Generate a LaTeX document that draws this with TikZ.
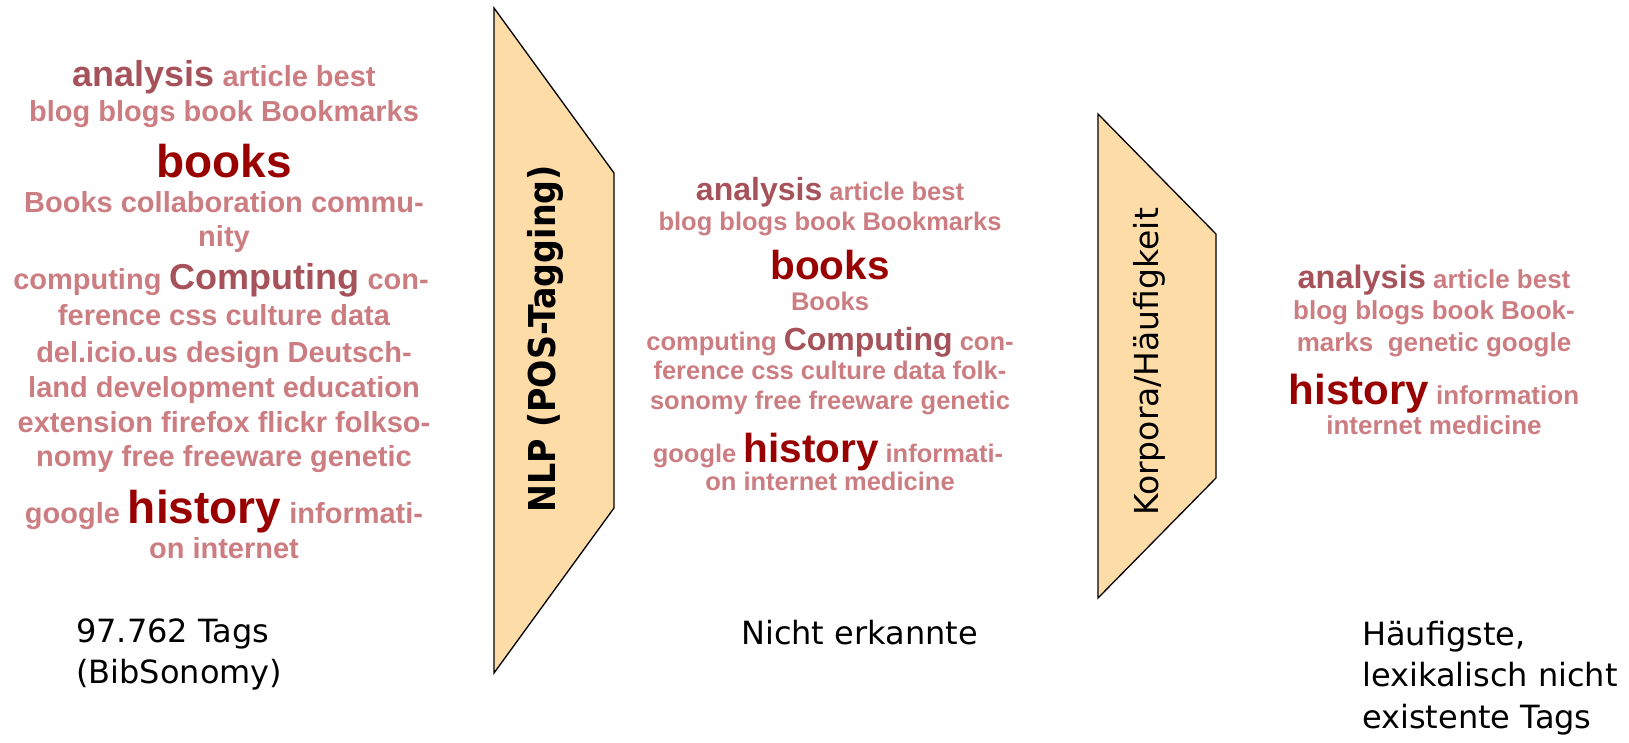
\documentclass[tikz,border=0pt]{standalone}
\usepackage{fontspec}
\setmainfont{DejaVu Sans}
\newfontfamily\cloudfont{Liberation Sans}
\newfontfamily\nlpfont{DejaVu Sans Condensed Bold}
\definecolor{tdark}{RGB}{153,0,0}
\definecolor{tmid}{RGB}{166,82,90}
\definecolor{tlight}{RGB}{204,125,130}
\definecolor{peach}{RGB}{253,220,168}
\newcommand\tg[3]{{\color{#2}\fontsize{#1}{#1}\selectfont#3}}
\tikzset{
  tagline/.style={anchor=base, inner sep=0pt, font=\cloudfont\bfseries},
  caption/.style={anchor=base west, inner sep=0pt, font=\fontsize{32}{32}\selectfont},
  funnel/.style={draw=black, line width=1.3pt, fill=peach, line join=miter},
}
\begin{document}
\begin{tikzpicture}[x=1pt,y=-1pt]
\useasboundingbox (0,0) rectangle (1629,742);
% funnels
\draw[funnel] (494,8) -- (614,173) -- (614,508) -- (494,673) -- cycle;
\draw[funnel] (1098,114) -- (1216,234) -- (1216,478) -- (1098,598) -- cycle;
\node[anchor=base, inner sep=0pt, rotate=90, font=\nlpfont\fontsize{37}{37}\selectfont] (nlp) at (555,339) {NLP (POS-Tagging)};
\node[anchor=base, inner sep=0pt, rotate=90, font=\fontsize{33}{33}\selectfont] (korp) at (1158,362) {Korpora/Häufigkeit};
% left cloud
\def\s{29}\def\m{36}\def\l{46}
\node[tagline] (L1) at (224,86) {\tg{\m}{tmid}{analysis}\tg{\s}{tlight}{ article best}};
\node[tagline] (L2) at (224,121) {\tg{\s}{tlight}{blog blogs book Bookmarks}};
\node[tagline] (L3) at (224,177) {\tg{\l}{tdark}{books}};
\node[tagline] (L4) at (224,212) {\tg{\s}{tlight}{Books collaboration commu-}};
\node[tagline] (L5) at (224,246) {\tg{\s}{tlight}{nity}};
\node[tagline] (L6) at (221,289) {\tg{\s}{tlight}{computing }\tg{\m}{tmid}{Computing}\tg{\s}{tlight}{ con-}};
\node[tagline] (L7) at (224,325) {\tg{\s}{tlight}{ference css culture data}};
\node[tagline] (L8) at (224,362) {\tg{\s}{tlight}{del.icio.us design Deutsch-}};
\node[tagline] (L9) at (224,397) {\tg{\s}{tlight}{land development education}};
\node[tagline] (L10) at (224,432) {\tg{\s}{tlight}{extension firefox flickr folkso-}};
\node[tagline] (L11) at (224,466) {\tg{\s}{tlight}{nomy free freeware genetic}};
\node[tagline] (L12) at (224,523) {\tg{\s}{tlight}{google }\tg{\l}{tdark}{history}\tg{\s}{tlight}{ informati-}};
\node[tagline] (L13) at (224,558) {\tg{\s}{tlight}{on internet}};
% middle cloud
\def\s{25.5}\def\m{32}\def\l{40.5}
\node[tagline] (M1) at (830,200) {\tg{\m}{tmid}{analysis}\tg{\s}{tlight}{ article best}};
\node[tagline] (M2) at (830,230) {\tg{\s}{tlight}{blog blogs book Bookmarks}};
\node[tagline] (M3) at (830,279) {\tg{\l}{tdark}{books}};
\node[tagline] (M4) at (830,310) {\tg{\s}{tlight}{Books}};
\node[tagline] (M5) at (830,350) {\tg{\s}{tlight}{computing }\tg{\m}{tmid}{Computing}\tg{\s}{tlight}{ con-}};
\node[tagline] (M6) at (830,379) {\tg{\s}{tlight}{ference css culture data folk-}};
\node[tagline] (M7) at (830,409) {\tg{\s}{tlight}{sonomy free freeware genetic}};
\node[tagline] (M8) at (828,462) {\tg{\s}{tlight}{google }\tg{\l}{tdark}{history}\tg{\s}{tlight}{ informati-}};
\node[tagline] (M9) at (830,490) {\tg{\s}{tlight}{on internet medicine}};
% right cloud
\def\s{26}\def\m{32.5}\def\l{42}
\node[tagline] (R1) at (1434,288) {\tg{\m}{tmid}{analysis}\tg{\s}{tlight}{ article best}};
\node[tagline] (R2) at (1434,319) {\tg{\s}{tlight}{blog blogs book Book-}};
\node[tagline] (R3) at (1434,351) {\tg{\s}{tlight}{marks~ genetic google}};
\node[tagline] (R4) at (1434,404) {\tg{\l}{tdark}{history}\tg{\s}{tlight}{ information}};
\node[tagline] (R5) at (1434,434) {\tg{\s}{tlight}{internet medicine}};
% captions
\node[caption] (c1a) at (76,642) {97.762 Tags};
\node[caption] (c1b) at (76,683.5) {(BibSonomy)};
\node[caption] (c2) at (741,644) {Nicht erkannte};
\node[caption] (c3a) at (1362,645) {Häufigste,};
\node[caption] (c3b) at (1362,686.5) {lexikalisch nicht};
\node[caption] (c3c) at (1362,728) {existente Tags};
\end{tikzpicture}
\end{document}
